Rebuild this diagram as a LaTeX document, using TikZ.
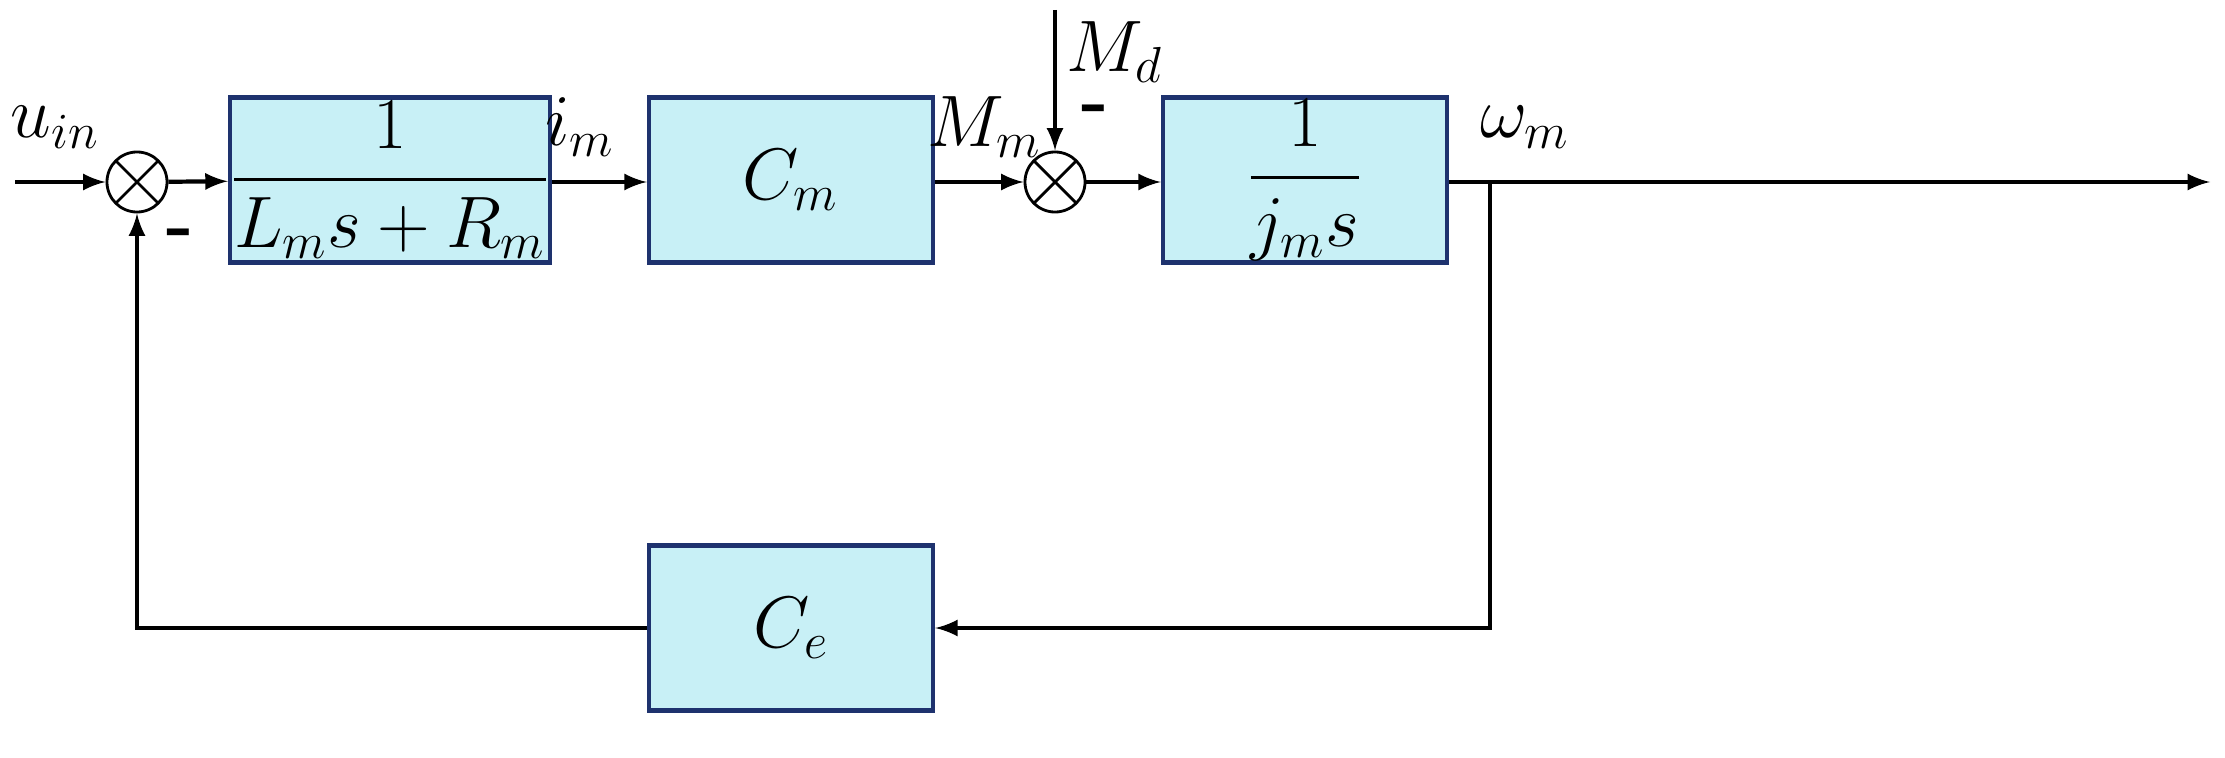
\documentclass[tikz,border=0pt]{standalone}
\usepackage{amsmath}
\usepackage{tikz}
\usetikzlibrary{calc}
\definecolor{boxfill}{RGB}{200,240,246}
\definecolor{boxline}{RGB}{30,50,110}

\begin{document}
\begin{tikzpicture}[x=0.01cm, y=0.01cm,
		block/.style={draw=boxline, very thick, fill=boxfill, minimum width=2.84cm, minimum height=1.65cm, inner sep=0pt, font=\huge},
		sum/.style={draw, thick, circle, minimum size=0.6cm, inner sep=0pt, path picture={\draw[thick] (path picture bounding box.north west) -- (path picture bounding box.south east) (path picture bounding box.north east) -- (path picture bounding box.south west);}},
		sig/.style={very thick, -latex},
		lab/.style={font=\huge}]
		\useasboundingbox (0,0) rectangle (2225,757);

		\node[sum] (s1) at (137,575) {};
		\node[block] (g1) at (390,577) {$\dfrac{1}{L_m s + R_m}$};
		\node[block] (g2) at (791,577) {$C_m$};
		\node[sum] (s2) at (1055,575) {};
		\node[block] (g3) at (1305,577) {$\dfrac{1}{j_m s}$};
		\node[block] (ce) at (791,129) {$C_e$};

		\coordinate (in) at (15,575);
		\coordinate (out) at (2210,575);
		\coordinate (br) at (1490,575);
		\coordinate (dist) at (1055,747);

		\draw[sig] (in) -- (s1);
		\draw[sig] (s1) -- (g1);
		\draw[sig] (g1.east |- s1) -- (g2.west |- s1);
		\draw[sig] (g2.east |- s1) -- (s2);
		\draw[sig] (s2) -- (g3.west |- s2);
		\draw[sig] (g3.east |- s2) -- (out);
		\draw[sig] (dist) -- (s2);
		\draw[sig] (br) |- (ce);
		\draw[sig] (ce) -| (s1);

		\node[lab] (uin) at (55,630) {$u_{in}$};
		\node[lab] (im) at (580,630) {$i_m$};
		\node[lab] (mm) at (985,630) {$M_m$};
		\node[lab] (wm) at (1525,630) {$\omega_m$};
		\node[lab] (md) at (1115,705) {$M_d$};
		\node[font=\huge\bfseries] (m1) at (180,518) {-};
		\node[font=\huge\bfseries] (m2) at (1095,642) {-};
	\end{tikzpicture}
\end{document}
